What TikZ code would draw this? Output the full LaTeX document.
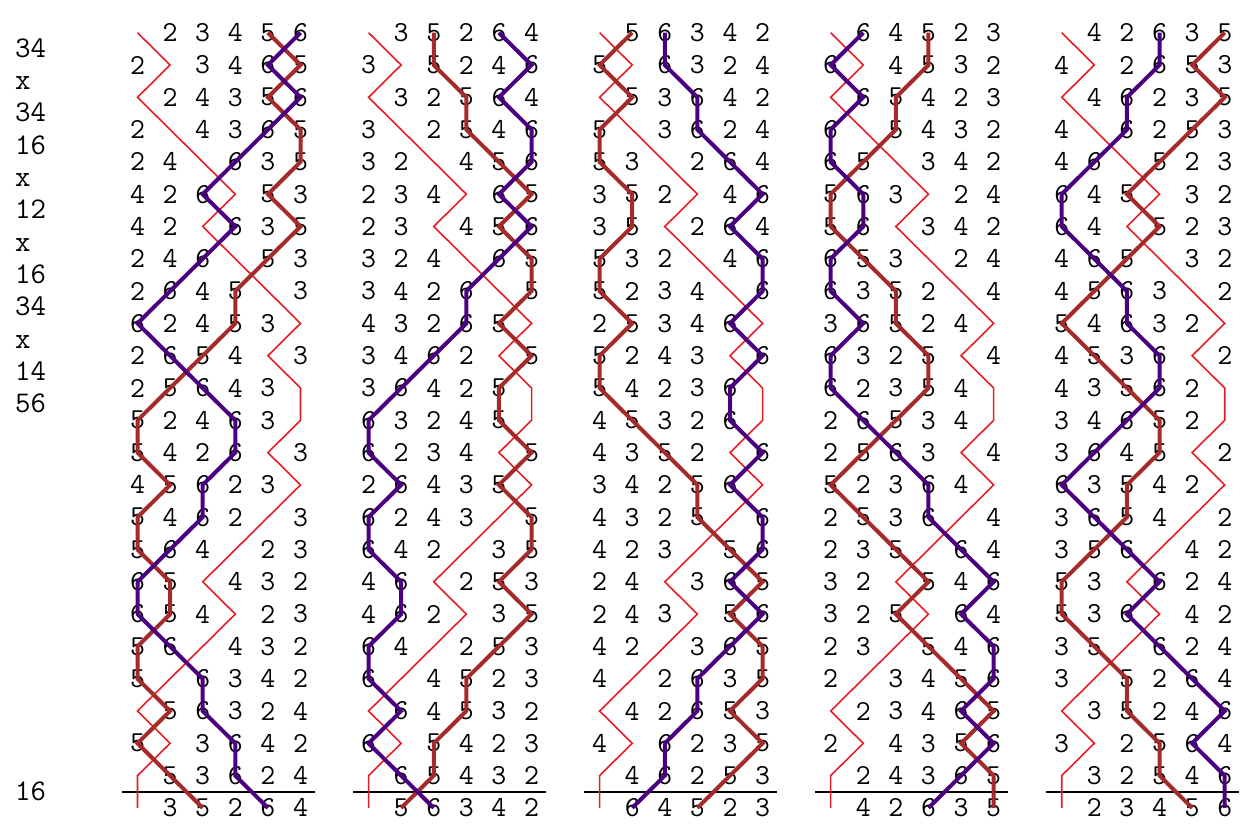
\documentclass[tikz,border=0pt]{standalone}
\definecolor{treblered}{RGB}{228,30,36}
\definecolor{bellbrown}{RGB}{165,42,42}
\definecolor{bellindigo}{RGB}{75,0,130}
\tikzset{
  digit/.style={font=\ttfamily\fontsize{29}{29}\selectfont, inner sep=0pt, text=black},
  pnlabel/.style={font=\ttfamily\fontsize{30}{30}\selectfont, inner sep=0pt, anchor=base west},
  trebleline/.style={draw=treblered, line width=1.6pt},
  brownline/.style={draw=bellbrown, line width=4pt},
  indigoline/.style={draw=bellindigo, line width=4pt},
  leadrule/.style={draw=black, line width=2pt},
}
% positions of each lead-1 role, rows 0..24
\def\roleA{1,2,1,2,3,4,3,4,5,6,5,6,6,5,6,5,4,3,4,3,2,1,2,1,1}
\def\roleB{2,1,2,1,1,2,2,1,1,2,1,1,2,3,4,4,5,6,5,6,6,5,6,5,4}
\def\roleC{3,3,4,4,5,6,5,6,6,5,6,5,5,6,5,6,6,5,6,5,4,4,3,3,2}
\def\roleD{4,4,3,3,2,1,1,2,3,3,4,4,3,2,1,2,3,4,3,4,5,6,5,6,6}
\def\roleE{5,6,5,6,6,5,6,5,4,4,3,2,1,1,2,1,1,2,2,1,1,2,1,2,3}
\def\roleF{6,5,6,5,4,3,4,3,2,1,2,3,4,4,3,3,2,1,1,2,3,3,4,4,5}
\newcommand\mkpath[1]{\gdef\pathcoords{}%
  \foreach \pp [count=\rw from 0] in #1 {%
    \ifnum\rw=0 \xdef\pathcoords{(\pp,\rw)}\else\xdef\pathcoords{\pathcoords -- (\pp,\rw)}\fi}}
\newcommand\drawrole[2]{\mkpath{#2}\edef\tmpcmd{\noexpand\draw[#1] \pathcoords;}\tmpcmd}
\newcommand\leadblock[8]{%
  \begin{scope}[shift={({104.9+231.05*#1},32.7)}, x=32.6pt, y=-32.3pt]
    \foreach \bb/\role in {#2/B,#3/C,#4/D,#5/E,#6/F}{%
      \edef\thelist{\csname role\role\endcsname}%
      \foreach \pp [count=\rw from 0] in \thelist {\node[digit] (d-#1-\role-\rw) at (\pp,\rw) {\bb};}%
    }
    \draw[leadrule] (0.525,23.5) -- (6.44,23.5);
    \drawrole{trebleline}{\roleA}
    \drawrole{brownline}{#7}
    \drawrole{indigoline}{#8}
  \end{scope}}
\begin{document}
\begin{tikzpicture}[x=1pt,y=-1pt]
\useasboundingbox (0,0) rectangle (1257,830);
\foreach \lab [count=\i from 0] in {34,x,34,16,x,12,x,16,34,x,14,56}{
  \node[pnlabel] (pn-\i) at (15,{32.7+(\i+0.5)*32.3+8.5}) {\lab};
}
\node[pnlabel] (pn-le) at (15,{32.7+23.5*32.3+8.5}) {16};
\leadblock{0}{2}{3}{4}{5}{6}{\roleE}{\roleF}
\leadblock{1}{3}{5}{2}{6}{4}{\roleC}{\roleE}
\leadblock{2}{5}{6}{3}{4}{2}{\roleB}{\roleC}
\leadblock{3}{6}{4}{5}{2}{3}{\roleD}{\roleB}
\leadblock{4}{4}{2}{6}{3}{5}{\roleF}{\roleD}
\end{tikzpicture}
\end{document}
